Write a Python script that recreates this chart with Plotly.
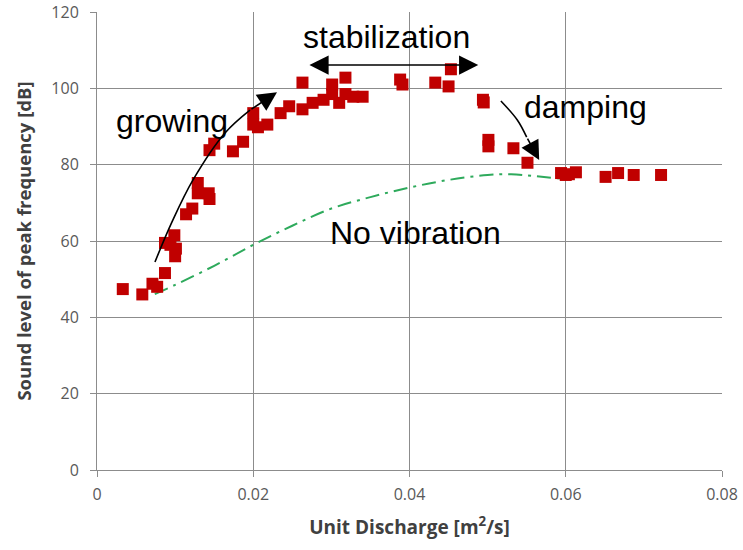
import plotly.graph_objects as go

# Measured data (unit discharge m2/s, sound level dB)
discharge = [0.0033, 0.0058, 0.0071, 0.0077, 0.0087, 0.0087, 0.0094, 0.0099, 0.0101, 0.0100,
             0.0114, 0.0122, 0.0129, 0.0129, 0.0143, 0.0144, 0.0144, 0.0150, 0.0174, 0.0187,
             0.0200, 0.0200, 0.0206, 0.0218, 0.0235, 0.0246, 0.0263, 0.0263, 0.0276, 0.0290,
             0.0301, 0.0301, 0.0310, 0.0318, 0.0318, 0.0328, 0.0340, 0.0388, 0.0391, 0.0433,
             0.0450, 0.0453, 0.0494, 0.0495, 0.0501, 0.0501, 0.0533, 0.0551, 0.0594, 0.0600,
             0.0604, 0.0613, 0.0651, 0.0667, 0.0687, 0.0722]
sound = [47.4, 46.0, 48.8, 48.0, 51.6, 59.5, 59.0, 61.5, 58.0, 56.0,
         67.0, 68.5, 75.2, 72.5, 72.5, 71.0, 83.8, 85.5, 83.5, 86.0,
         93.5, 90.5, 89.8, 90.5, 93.5, 95.3, 94.5, 101.5, 96.2, 97.0,
         101.0, 98.5, 96.2, 98.5, 102.8, 97.8, 97.8, 102.3, 101.0, 101.5,
         100.5, 105.0, 97.0, 96.3, 86.5, 84.8, 84.3, 80.5, 77.8, 77.3,
         77.5, 78.0, 76.8, 77.8, 77.3, 77.3]

# "No vibration" reference curve
novib_x = [0.0074, 0.010, 0.015, 0.020, 0.025, 0.030, 0.035, 0.040, 0.045, 0.050, 0.053, 0.056, 0.060]
novib_y = [46.1, 48.5, 53.5, 59.0, 64.0, 68.5, 71.5, 74.0, 76.0, 77.3, 77.5, 77.0, 76.2]

# Annotation arrow paths
grow_x = [0.00742, 0.0096, 0.01229, 0.01638, 0.01958, 0.02304]
grow_y = [54.5, 65.0, 76.0, 88.3, 94.3, 99.0]
damp_x = [0.0517, 0.0538, 0.0550, 0.0566]
damp_y = [96.7, 91.7, 87.2, 81.2]
stab_x = [0.0270, 0.0488]
stab_y = [106.1, 106.1]

x_ticks = [0, 0.02, 0.04, 0.06, 0.08]
x_tick_text = ["0", "0.02", "0.04", "0.06", "0.08"]
y_ticks = [0, 20, 40, 60, 80, 100, 120]

fig = go.Figure()

fig.add_trace(go.Scatter(x=novib_x, y=novib_y, mode="lines", line_shape="spline",
                         line=dict(color="#2eaa5c", width=2, dash="14px,6px,3px,6px"),
                         hoverinfo="skip", showlegend=False))

fig.add_trace(go.Scatter(x=discharge, y=sound, mode="markers",
                         marker=dict(symbol="square", size=12, color="#c00000",
                                     line=dict(width=0)),
                         showlegend=False))

# curved arrow bodies
fig.add_trace(go.Scatter(x=grow_x[:-1], y=grow_y[:-1], mode="lines", line_shape="spline",
                         line=dict(color="black", width=1.6), hoverinfo="skip", showlegend=False))
fig.add_trace(go.Scatter(x=damp_x[:-1], y=damp_y[:-1], mode="lines", line_shape="spline",
                         line=dict(color="black", width=1.6), hoverinfo="skip", showlegend=False))

ann_font = dict(family="Liberation Sans, Arial, sans-serif", size=32, color="black")

annotations = [
    dict(x=grow_x[-1], y=grow_y[-1], ax=grow_x[-2], ay=grow_y[-2], xref="x", yref="y",
         axref="x", ayref="y", showarrow=True, arrowhead=2, arrowsize=2.4, arrowwidth=1.6,
         arrowcolor="black", text=""),
    dict(x=damp_x[-1], y=damp_y[-1], ax=damp_x[-2], ay=damp_y[-2], xref="x", yref="y",
         axref="x", ayref="y", showarrow=True, arrowhead=2, arrowsize=2.4, arrowwidth=1.6,
         arrowcolor="black", text=""),
    dict(x=stab_x[1], y=stab_y[1], ax=stab_x[0], ay=stab_y[0], xref="x", yref="y",
         axref="x", ayref="y", showarrow=True, arrowhead=2, startarrowhead=2,
         arrowside="end+start", arrowsize=2.4, startarrowsize=2.4, arrowwidth=1.6,
         arrowcolor="black", text=""),
    dict(x=0.0096, y=91.5, text="growing", showarrow=False, font=ann_font, xref="x", yref="y"),
    dict(x=0.0371, y=113.5, text="stabilization", showarrow=False, font=ann_font, xref="x", yref="y"),
    dict(x=0.0625, y=95.0, text="damping", showarrow=False, font=ann_font, xref="x", yref="y"),
    dict(x=0.0408, y=62.0, text="No vibration", showarrow=False, font=ann_font, xref="x", yref="y"),
]

axis_font = dict(family="Open Sans, sans-serif", size=16, color="#595959")
ytitle_font = dict(family="Open Sans, sans-serif", size=18.5, color="#404040")
xtitle_font = dict(family="Open Sans, sans-serif", size=19, color="#404040")

fig.update_layout(
    width=743, height=550,
    margin=dict(l=97, r=21, t=12, b=80, autoexpand=False),
    paper_bgcolor="white", plot_bgcolor="white",
    annotations=annotations,
    xaxis=dict(range=[0, 0.08], tickvals=x_ticks, ticktext=x_tick_text,
               showgrid=True, gridcolor="#8c8c8c", gridwidth=1,
               showline=True, linecolor="#8c8c8c", linewidth=1,
               ticks="outside", ticklen=6, tickcolor="#8c8c8c",
               tickfont=axis_font, zeroline=False, automargin=False,
               ticklabelstandoff=4,
               title=dict(text="<b>Unit Discharge [m<sup>2</sup>/s]</b>", font=xtitle_font, standoff=16)),
    yaxis=dict(range=[0, 120], tickvals=y_ticks,
               showgrid=True, gridcolor="#8c8c8c", gridwidth=1,
               showline=True, linecolor="#8c8c8c", linewidth=1,
               ticks="outside", ticklen=6, tickcolor="#8c8c8c",
               tickfont=axis_font, zeroline=False, automargin=False,
               ticklabelstandoff=8,
               title=dict(text="<b>Sound level of peak frequency [dB]</b>", font=ytitle_font, standoff=14)),
)

fig.write_html("out.html")
